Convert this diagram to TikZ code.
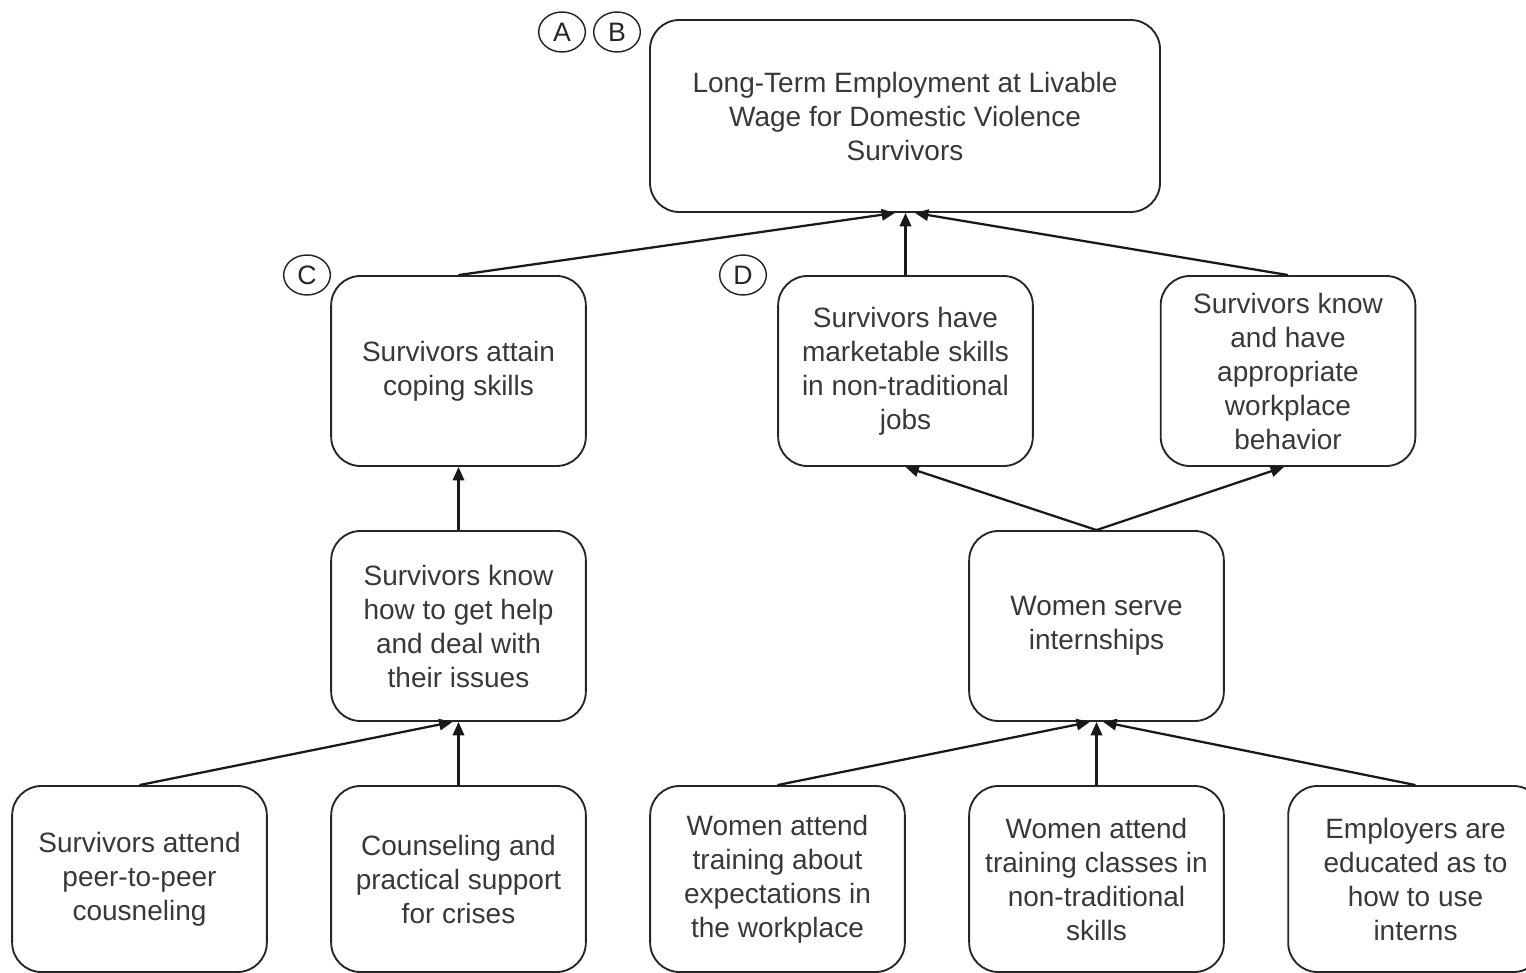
\documentclass[tikz,border=0pt]{standalone}
\usepackage{fontspec}
\setmainfont{Liberation Sans}
\usetikzlibrary{arrows.meta,shapes.geometric}
\begin{document}
\begin{tikzpicture}[x=0.75pt,y=-0.75pt,
  box/.style={draw=black!85, line width=1.4pt, rounded corners=22pt,
    minimum width=191pt, minimum height=142.5pt, align=center,
    text=black!78, font=\fontsize{21}{25.5}\selectfont, inner sep=0pt},
  bottombox/.style={box, minimum height=139.5pt},
  tag/.style={draw=black!85, line width=1.1pt, ellipse, minimum width=35pt,
    minimum height=30pt, inner sep=0pt, text=black!85,
    font=\fontsize{20}{24}\selectfont},
  conn/.style={draw=black!90, line width=1.7pt, -{Triangle[length=10pt,width=8.5pt]}}]
\useasboundingbox (0,0) rectangle (1526,973);
\clip (0,0) rectangle (1526,973);
% top
\node[box, minimum width=382.5pt, minimum height=144pt] (top) at (905,116)
  {Long-Term Employment at Livable\\Wage for Domestic Violence\\Survivors};
% row 2
\node[box] (c1) at (458.5,371) {Survivors attain\\coping skills};
\node[box] (m) at (905.5,371) {Survivors have\\marketable skills\\in non-traditional\\jobs};
\node[box] (r) at (1288,371) {Survivors know\\and have\\appropriate\\workplace\\behavior};
% row 3
\node[box] (c3) at (458.5,626) {Survivors know\\how to get help\\and deal with\\their issues};
\node[box] (int) at (1096.5,626) {Women serve\\internships};
% row 4
\node[bottombox] (b1) at (139.5,879) {Survivors attend\\peer-to-peer\\cousneling};
\node[bottombox] (b2) at (458.5,879) {Counseling and\\practical support\\for crises};
\node[bottombox] (b3) at (777.5,879) {Women attend\\training about\\expectations in\\the workplace};
\node[bottombox] (b4) at (1096.5,879) {Women attend\\training classes in\\non-traditional\\skills};
\node[bottombox] (b5) at (1415.5,879) {Employers are\\educated as to\\how to use\\interns};
% tags
\node[tag] (tA) at (562,32) {A};
\node[tag] (tB) at (617,32) {B};
\node[tag] (tC) at (307,275) {C};
\node[tag] (tD) at (743,275) {D};
% connectors
\draw[conn] (c1.north) -- ([xshift=-7.5pt]top.south);
\draw[conn] (m.north) -- (m.north |- top.south);
\draw[conn] (r.north) -- ([xshift=7.5pt]top.south);
\draw[conn] (c3.north) -- (c1.south);
\draw[conn] (int.north) -- (m.south);
\draw[conn] (int.north) -- ([xshift=-3pt]r.south);
\draw[conn] (b1.north) -- ([xshift=-4.5pt]c3.south);
\draw[conn] (b2.north) -- (c3.south);
\draw[conn] (b3.north) -- ([xshift=-5pt]int.south);
\draw[conn] (b4.north) -- (int.south);
\draw[conn] (b5.north) -- ([xshift=5pt]int.south);
\end{tikzpicture}
\end{document}
